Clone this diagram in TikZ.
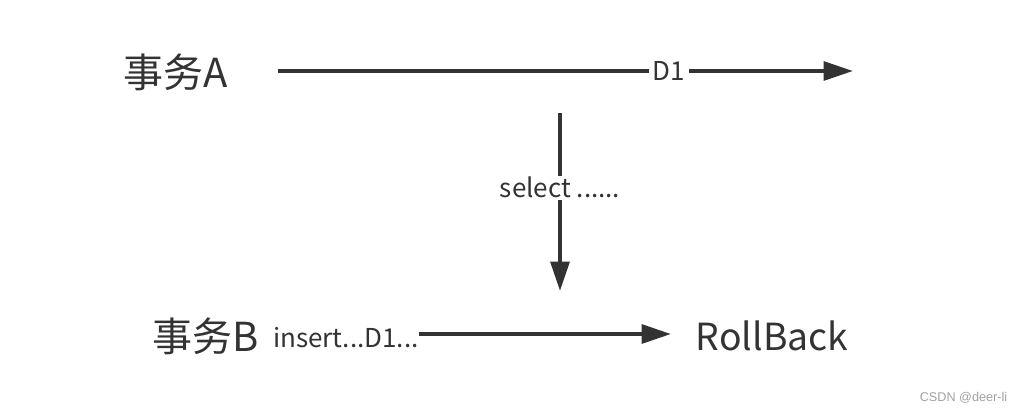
\documentclass[tikz,border=0pt]{standalone}
\usepackage{fontspec}
\setmainfont{Noto Sans CJK SC}
\newfontfamily\markfont{Liberation Sans}
\usetikzlibrary{arrows.meta}
\definecolor{Ink}{RGB}{51,51,51}
\definecolor{Mark}{RGB}{160,160,160}
\tikzset{
  >={Triangle[length=22pt,width=14pt]},
  txn/.style={text=Ink,font=\fontsize{30}{32}\selectfont,inner sep=0pt},
  lbl/.style={text=Ink,fill=white,font=\fontsize{19.5}{21}\selectfont,inner xsep=3pt,inner ysep=1pt},
  flow/.style={->,line width=3pt,draw=Ink}
}
\begin{document}
\begin{tikzpicture}[x=0.75pt,y=-0.75pt]
  \useasboundingbox (0,0) rectangle (1020,415);
  \node[txn] (ta) at (176,72) {事务A};
  \node[txn] (tb) at (206,336) {事务B};
  \node[txn,font=\fontsize{28}{30}\selectfont] (rb) at (772,336) {RollBack};
  \coordinate (astart) at (278,71);
  \coordinate (aend) at (853,71);
  \coordinate (top) at (560,113);
  \coordinate (bot) at (560,291);
  \coordinate (bend) at (671,334);
  \node[lbl,anchor=west,inner xsep=0pt] (ins) at (273,338) {insert...D1...};
  \draw[flow] (astart) -- (aend) node[lbl,pos=0.68] (d1) {D1};
  \draw[flow] (top) -- (bot) node[lbl,pos=0.42] (sel) {select ......};
  \draw[flow] (ins.east |- bend) -- (bend);
  \node[text=Mark,font=\markfont\fontsize{9.5}{11}\selectfont,anchor=east] (csdn) at (1012,398) {CSDN @deer-li};
\end{tikzpicture}
\end{document}
